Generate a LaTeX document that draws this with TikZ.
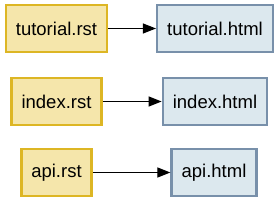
\documentclass[tikz,border=0pt]{standalone}
\usepackage{fontspec}
\setmainfont{Liberation Sans}
\usepackage{tikz}
\usetikzlibrary{arrows.meta}

\definecolor{rstfill}{HTML}{F5E6AB}
\definecolor{rstline}{HTML}{DDB624}
\definecolor{htmlfill}{HTML}{DCE8EE}
\definecolor{htmlline}{HTML}{7890AA}

\tikzset{
  rst/.style={draw=rstline,fill=rstfill,line width=2.5pt,minimum height=47pt,inner xsep=10pt,font=\fontsize{18.5}{20}\selectfont},
  html/.style={draw=htmlline,fill=htmlfill,line width=2.5pt,minimum height=47pt,inner xsep=10pt,font=\fontsize{18.5}{20}\selectfont},
  conv/.style={-{Triangle[length=13pt,width=10pt]},line width=1.2pt}
}

\begin{document}
\begin{tikzpicture}[x=1pt,y=-1pt]
\useasboundingbox (0,0) rectangle (279,203);
\node[rst] (tutrst) at (56.5,28.5) {tutorial.rst};
\node[html] (tuthtml) at (215,28.5) {tutorial.html};
\node[rst] (idxrst) at (56.5,101.5) {index.rst};
\node[html] (idxhtml) at (215,101.5) {index.html};
\node[rst] (apirst) at (56.5,172.5) {api.rst};
\node[html] (apihtml) at (214,172.5) {api.html};
\draw[conv] (tutrst) -- (tuthtml);
\draw[conv] (idxrst) -- (idxhtml);
\draw[conv] (apirst) -- (apihtml);
\end{tikzpicture}
\end{document}
